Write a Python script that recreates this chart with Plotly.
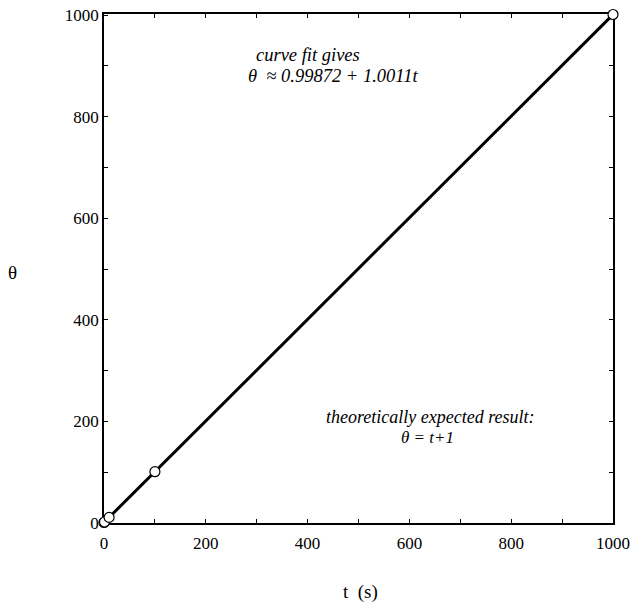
import plotly.graph_objects as go

# measured samples: elapsed time t (s) and response theta
t_values = [0, 1, 10, 100, 1000]
theta_values = [1, 2, 11, 101, 1001]

tick_positions = [0, 100, 200, 300, 400, 500, 600, 700, 800, 900, 1000]
tick_labels = ["0", "", "200", "", "400", "", "600", "", "800", "", "1000"]

serif = "'Times New Roman', 'Liberation Serif', 'DejaVu Serif', serif"

fig = go.Figure()
fig.add_trace(go.Scatter(
    x=t_values, y=theta_values,
    mode="lines+markers",
    line=dict(color="black", width=3),
    marker=dict(symbol="circle", size=10, color="white",
                line=dict(color="black", width=1.2)),
    cliponaxis=False,
    showlegend=False,
))

axis_common = dict(
    tickmode="array",
    tickvals=tick_positions,
    ticktext=tick_labels,
    ticks="inside",
    ticklen=4,
    tickwidth=1,
    tickcolor="black",
    showline=True,
    linecolor="black",
    linewidth=1.6,
    mirror="ticks",
    showgrid=False,
    zeroline=False,
    automargin=False,
    layer="below traces",
    tickfont=dict(family=serif, size=17, color="black"),
)

fig.update_xaxes(range=[0, 1000], ticklabelstandoff=4, **axis_common)
fig.update_yaxes(range=[0, 1002], **axis_common)

annotations = [
    dict(x=401, y=922, text="<i>curve fit gives</i>", size=18.5),
    dict(x=450, y=880, text="<i>θ  ≈ 0.99872 + 1.0011t</i>", size=18.5),
    dict(x=642, y=208, text="<i>theoretically expected result:</i>", size=18),
    dict(x=635, y=168, text="<i>θ = t+1</i>", size=17),
]
for a in annotations:
    fig.add_annotation(x=a["x"], y=a["y"], xref="x", yref="y", text=a["text"],
                       showarrow=False, xanchor="center", yanchor="middle",
                       font=dict(family=serif, size=a["size"], color="black"))

# axis titles
fig.add_annotation(x=12, y=272, xref="paper", yref="paper", text="θ",
                   showarrow=False, xanchor="center", yanchor="middle",
                   font=dict(family=serif, size=19, color="black"))
fig.add_annotation(x=360, y=592, xref="paper", yref="paper", text="t  (s)",
                   showarrow=False, xanchor="center", yanchor="middle",
                   font=dict(family=serif, size=19, color="black"))

# convert the two title annotations from pixel positions to paper coordinates
W, H = 631, 611
L, R, T, B = 104, 18, 14, 88
pw, ph = W - L - R, H - T - B
for ann in fig.layout.annotations[-2:]:
    px, py = ann.x, ann.y
    ann.x = (px - L) / pw
    ann.y = (H - B - py) / ph

fig.update_layout(
    width=W, height=H,
    margin=dict(l=L, r=R, t=T, b=B),
    plot_bgcolor="white",
    paper_bgcolor="white",
    font=dict(family=serif, color="black"),
)

fig.write_html("out.html")
